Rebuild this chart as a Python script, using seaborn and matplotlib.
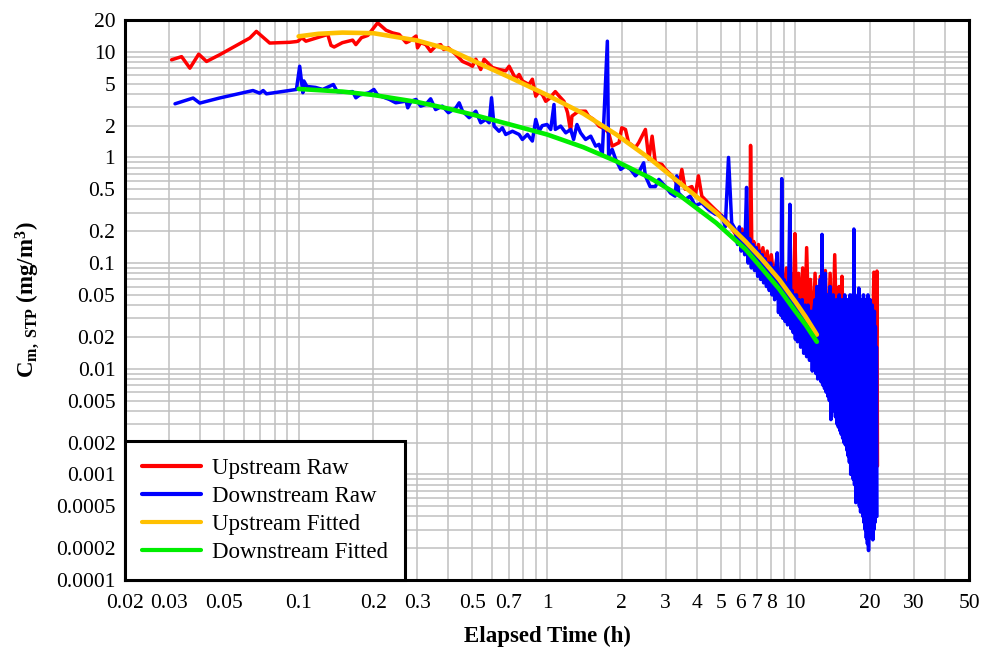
import numpy as np
import pandas as pd
import matplotlib
matplotlib.use('Agg')
import matplotlib.pyplot as plt
import seaborn as sns
from matplotlib.ticker import FixedLocator, FixedFormatter, LogLocator, NullFormatter

# Upstream raw readings (elapsed time h, concentration mg/m3)
up_raw = [
    (0.0308, 8.4), (0.0338, 9.0), (0.0365, 7.0), (0.0396, 9.5), (0.0426, 8.1), (0.0482, 9.4),
    (0.0636, 13.5), (0.0676, 15.6), (0.0765, 12.1), (0.092, 12.3), (0.098, 12.5),
    (0.0995, 12.6), (0.103, 13.6), (0.107, 12.6), (0.125, 14.1), (0.131, 14.6), (0.135, 11.5),
    (0.139, 11.1), (0.150, 12.2), (0.165, 12.9), (0.170, 11.7), (0.179, 13.6), (0.190, 14.3),
    (0.208, 18.8), (0.225, 16.0), (0.239, 15.1), (0.254, 14.6), (0.271, 12.2), (0.279, 12.6),
    (0.297, 14.1), (0.301, 10.9), (0.310, 12.2), (0.325, 11.7), (0.340, 10.1), (0.356, 11.3),
    (0.373, 11.7), (0.384, 10.5), (0.401, 10.9), (0.430, 9.4), (0.457, 8.1), (0.486, 7.6),
    (0.501, 7.3), (0.517, 8.5), (0.541, 6.8), (0.558, 8.5), (0.585, 7.6), (0.603, 7.1),
    (0.641, 6.8), (0.682, 6.6), (0.704, 7.3), (0.749, 5.5), (0.772, 6.1), (0.796, 5.3),
    (0.846, 4.9), (0.873, 5.5), (0.901, 3.8), (0.929, 4.2), (0.960, 3.9), (0.988, 3.4),
    (1.02, 3.6), (1.08, 4.2), (1.12, 3.8), (1.17, 3.4), (1.21, 2.65), (1.245, 1.77),
    (1.26, 2.46), (1.34, 2.74), (1.43, 2.74), (1.47, 2.46), (1.54, 2.29), (1.62, 1.98),
    (1.72, 1.84), (1.77, 1.71), (1.83, 1.28), (1.95, 1.38), (2.00, 1.91), (2.07, 1.84),
    (2.13, 1.38), (2.27, 1.24), (2.34, 1.38), (2.49, 1.84), (2.57, 0.96), (2.65, 1.59),
    (2.73, 0.89), (2.90, 0.86), (3.00, 0.77), (3.19, 0.67), (3.39, 0.53), (3.49, 0.77),
    (3.60, 0.50), (3.83, 0.53), (3.95, 0.43), (4.07, 0.67), (4.20, 0.43), (4.47, 0.37),
    (4.76, 0.32), (5.06, 0.28), (5.38, 0.24), (5.72, 0.19),
    (5.9, 0.16), (6.1, 0.21), (6.3, 0.14), (6.45, 0.17), (6.55, 0.12), (6.6, 1.3),
    (6.68, 0.13), (6.8, 0.16), (6.95, 0.11), (7.1, 0.15), (7.25, 0.10), (7.4, 0.14),
    (7.55, 0.09), (7.7, 0.13), (7.85, 0.08), (8.0, 0.12), (8.2, 0.07), (8.4, 0.11),
    (8.6, 0.06), (8.8, 0.10), (9.0, 0.05), (9.2, 0.09), (9.4, 0.045), (9.6, 0.08),
    (9.8, 0.04), (9.96, 0.19), (10.1, 0.035), (10.3, 0.08), (10.5, 0.03), (10.7, 0.09),
    (10.9, 0.025), (11.1, 0.14), (11.3, 0.03), (11.5, 0.07), (11.8, 0.02), (12.0, 0.08),
    (12.3, 0.018), (12.6, 0.075), (12.9, 0.015), (13.2, 0.085), (13.5, 0.014), (13.8, 0.08),
    (14.1, 0.012), (14.4, 0.12), (14.7, 0.015), (15.0, 0.06), (15.2, 0.012), (15.4, 0.075),
    (15.7, 0.01), (16.0, 0.045), (16.3, 0.008), (16.6, 0.04), (17.0, 0.007), (17.4, 0.035),
    (17.8, 0.005), (18.2, 0.04), (18.6, 0.004), (19.0, 0.035), (19.4, 0.003), (19.8, 0.045),
    (20.2, 0.003), (20.7, 0.082), (21.0, 0.002), (21.3, 0.084), (21.4, 0.0012),
]

# Downstream raw readings
dn_raw = [
    (0.0318, 3.22), (0.0376, 3.65), (0.040, 3.27), (0.048, 3.65), (0.0655, 4.3), (0.0697, 4.06),
    (0.072, 4.3), (0.0742, 4.0), (0.098, 4.4),
    (0.101, 7.3), (0.104, 4.1), (0.105, 5.3), (0.108, 4.7), (0.117, 4.6), (0.125, 4.4),
    (0.133, 4.7), (0.138, 4.9), (0.143, 4.2), (0.150, 4.15), (0.165, 4.2), (0.170, 3.67),
    (0.176, 3.9), (0.192, 4.1), (0.201, 4.4), (0.208, 3.9), (0.232, 3.54), (0.246, 3.29),
    (0.271, 3.41), (0.275, 2.95), (0.284, 3.41), (0.297, 3.54), (0.310, 3.06), (0.325, 3.17),
    (0.340, 3.59), (0.356, 2.84), (0.379, 3.06), (0.401, 2.65), (0.430, 2.95), (0.443, 3.29),
    (0.457, 2.74), (0.486, 2.38), (0.517, 2.74), (0.541, 2.13), (0.567, 2.29), (0.585, 2.13),
    (0.598, 3.67), (0.612, 1.98), (0.641, 1.77), (0.661, 1.91), (0.682, 1.65), (0.726, 1.77),
    (0.772, 1.65), (0.796, 1.48), (0.834, 1.65), (0.873, 1.43), (0.901, 2.29), (0.929, 1.77),
    (0.957, 2.0), (1.0, 2.05), (1.035, 1.84), (1.067, 3.17), (1.08, 1.84), (1.135, 1.98),
    (1.19, 1.71), (1.245, 1.84), (1.28, 1.48), (1.32, 2.05), (1.365, 1.71), (1.43, 1.48),
    (1.50, 1.59), (1.57, 1.28), (1.62, 1.33), (1.67, 1.07), (1.75, 12.6), (1.77, 1.03),
    (1.83, 1.19), (1.89, 0.96), (1.98, 0.77), (2.07, 0.83), (2.17, 0.77), (2.27, 0.67),
    (2.34, 0.72), (2.45, 0.89), (2.49, 0.67), (2.60, 0.53), (2.73, 0.53), (2.82, 0.62),
    (3.00, 0.53), (3.14, 0.46), (3.28, 0.43), (3.33, 0.67), (3.39, 0.46), (3.60, 0.40),
    (3.77, 0.43), (3.95, 0.35), (4.20, 0.37), (4.47, 0.32), (4.76, 0.29), (5.06, 0.28),
    (5.22, 0.22), (5.38, 1.0), (5.54, 0.24), (5.72, 0.21),
    (5.85, 0.15), (5.95, 0.22), (6.05, 0.13), (6.15, 0.19), (6.25, 0.12), (6.36, 0.52),
    (6.45, 0.10), (6.55, 0.17), (6.65, 0.09), (6.75, 0.15), (6.85, 0.085), (6.95, 0.14),
    (7.05, 0.075), (7.15, 0.13), (7.25, 0.07), (7.35, 0.12), (7.45, 0.065), (7.55, 0.11),
    (7.65, 0.06), (7.75, 0.10), (7.85, 0.055), (7.95, 0.10), (8.05, 0.05), (8.15, 0.09),
    (8.25, 0.045), (8.35, 0.085), (8.45, 0.125), (8.55, 0.034), (8.65, 0.08), (8.75, 0.032),
    (8.81, 0.63), (8.9, 0.03), (9.0, 0.07), (9.1, 0.028), (9.2, 0.065), (9.3, 0.026),
    (9.4, 0.06), (9.5, 0.36), (9.6, 0.024), (9.7, 0.055), (9.8, 0.022), (9.9, 0.05),
    (10.0, 0.019), (10.1, 0.05), (10.2, 0.018), (10.35, 0.045), (10.5, 0.016), (10.65, 0.045),
    (10.8, 0.014), (10.95, 0.04), (11.1, 0.013), (11.25, 0.04), (11.4, 0.012), (11.55, 0.035),
    (11.7, 0.0095), (11.85, 0.035),
    (12.0, 0.045), (12.1, 0.009), (12.2, 0.06), (12.3, 0.008), (12.4, 0.04), (12.5, 0.0085),
    (12.6, 0.07), (12.7, 0.0075), (12.8, 0.187), (12.9, 0.007), (13.0, 0.06), (13.1, 0.0065),
    (13.2, 0.08), (13.3, 0.006), (13.4, 0.05), (13.5, 0.0055), (13.6, 0.035), (13.7, 0.005),
    (13.8, 0.06), (13.9, 0.0033), (14.0, 0.03), (14.1, 0.0045), (14.2, 0.05), (14.3, 0.004),
    (14.4, 0.025), (14.5, 0.0035), (14.6, 0.045), (14.7, 0.003), (14.8, 0.03), (14.9, 0.0028),
    (15.0, 0.05), (15.1, 0.0026), (15.2, 0.03), (15.3, 0.0024), (15.4, 0.045), (15.5, 0.0022),
    (15.6, 0.035), (15.7, 0.002), (15.8, 0.05), (15.9, 0.0019), (16.0, 0.04), (16.1, 0.0017),
    (16.2, 0.045), (16.3, 0.0015), (16.4, 0.035), (16.5, 0.0013), (16.6, 0.05), (16.7, 0.001),
    (16.8, 0.04), (16.9, 0.0011), (17.0, 0.05), (17.1, 0.0009), (17.2, 0.21), (17.3, 0.0008),
    (17.4, 0.05), (17.5, 0.00054), (17.6, 0.045), (17.7, 0.0007), (17.8, 0.04), (17.9, 0.0006),
    (18.0, 0.058), (18.1, 0.0005), (18.2, 0.04), (18.3, 0.00044), (18.4, 0.045), (18.5, 0.0005),
    (18.6, 0.035), (18.7, 0.0004), (18.8, 0.05), (18.9, 0.00035), (19.0, 0.04), (19.1, 0.0003),
    (19.2, 0.045), (19.3, 0.00025), (19.4, 0.035), (19.5, 0.00022), (19.6, 0.05), (19.7, 0.00019),
    (19.8, 0.04), (19.9, 0.00025), (20.0, 0.045), (20.1, 0.0003), (20.2, 0.035), (20.3, 0.00028),
    (20.4, 0.04), (20.5, 0.00024), (20.6, 0.03), (20.7, 0.0003), (20.8, 0.035), (20.9, 0.00035),
    (21.0, 0.025), (21.1, 0.0006), (21.2, 0.016), (21.3, 0.0004),
]

# Fitted curves
up_fit = [
    (0.1, 14.0), (0.12, 14.8), (0.15, 15.2), (0.2, 15.0), (0.3, 12.8), (0.4, 10.6),
    (0.5, 8.3), (0.7, 5.8), (1.0, 3.9), (1.4, 2.6), (1.9, 1.65), (2.6, 0.97), (3.5, 0.55),
    (4.8, 0.30), (6.3, 0.16), (7.3, 0.11), (8.6, 0.07), (10.0, 0.043), (11.0, 0.031),
    (12.2, 0.021),
]
dn_fit = [
    (0.1, 4.45), (0.15, 4.2), (0.2, 3.9), (0.3, 3.35), (0.4, 2.9), (0.5, 2.55), (0.7, 2.07),
    (1.0, 1.65), (1.4, 1.25), (1.9, 0.92), (2.6, 0.64), (3.5, 0.42), (4.8, 0.24), (6.3, 0.135),
    (7.3, 0.09), (8.6, 0.057), (10.0, 0.035), (11.0, 0.026), (12.2, 0.018),
]

x_ticks = [0.02, 0.03, 0.05, 0.1, 0.2, 0.3, 0.5, 0.7, 1, 2, 3, 4, 5, 6, 7, 8, 10, 20, 30, 50]
x_labels = ['0.02', '0.03', '0.05', '0.1', '0.2', '0.3', '0.5', '0.7', '1', '2', '3', '4',
            '5', '6', '7', '8', '10', '20', '30', '50']
y_ticks = [20, 10, 5, 2, 1, 0.5, 0.2, 0.1, 0.05, 0.02, 0.01, 0.005, 0.002, 0.001,
           0.0005, 0.0002, 0.0001]
y_labels = ['20', '10', '5', '2', '1', '0.5', '0.2', '0.1', '0.05', '0.02', '0.01', '0.005',
            '0.002', '0.001', '0.0005', '0.0002', '0.0001']

sns.set_theme(style='white')
plt.rcParams['font.family'] = ['Liberation Serif', 'DejaVu Serif']
plt.rcParams['mathtext.fontset'] = 'custom'
plt.rcParams['mathtext.rm'] = 'Liberation Serif'
plt.rcParams['mathtext.bf'] = 'Liberation Serif:bold'
plt.rcParams['mathtext.it'] = 'Liberation Serif:italic'

fig = plt.figure(figsize=(9.82, 6.47), dpi=100)
ax = fig.add_axes([125 / 982, 1 - 580 / 647, 844 / 982, 560 / 647])
ax.set_xscale('log')
ax.set_yscale('log')

series = [
    (up_raw, 'Upstream Raw', '#ff0000', 2.5),
    (dn_raw, 'Downstream Raw', '#0000ff', 2.5),
    (up_fit, 'Upstream Fitted', '#ffc000', 3.3),
    (dn_fit, 'Downstream Fitted', '#00ee00', 3.3),
]
for pts, name, col, lw in series:
    df = pd.DataFrame(pts, columns=['t', 'c'])
    sns.lineplot(data=df, x='t', y='c', estimator=None, sort=False, color=col,
                 linewidth=lw, label=name, ax=ax)

ax.set_xlim(0.02, 50)
ax.set_ylim(1e-4, 20)

ax.xaxis.set_major_locator(FixedLocator(x_ticks))
ax.xaxis.set_major_formatter(FixedFormatter(x_labels))
ax.yaxis.set_major_locator(FixedLocator(y_ticks))
ax.yaxis.set_major_formatter(FixedFormatter(y_labels))
for axis in (ax.xaxis, ax.yaxis):
    axis.set_minor_locator(LogLocator(base=10, subs=np.arange(1, 10), numticks=30))
    axis.set_minor_formatter(NullFormatter())

ax.set_axisbelow(True)
ax.grid(True, which='both', color='#c0c0c0', linewidth=1.1)
ax.tick_params(which='both', length=0, labelsize=15.5, colors='black')
ax.tick_params(axis='x', pad=10)
ax.tick_params(axis='y', pad=7)

for sp in ax.spines.values():
    sp.set_visible(True)
    sp.set_color('black')
    sp.set_linewidth(2.2)

ax.set_xlabel('Elapsed Time (h)', fontsize=16.5, fontweight='bold', color='black')
ax.set_ylabel(r'$\mathbf{C_{m,\ STP}}$ (mg/m$^\mathbf{3}$)', fontsize=16.5,
              fontweight='bold', color='black')
ax.xaxis.set_label_coords(0.5, -0.082)
ax.yaxis.set_label_coords(-0.099, 0.5)

leg = ax.legend(loc='lower left', bbox_to_anchor=(0, 0), borderaxespad=0, fontsize=16.5,
                frameon=True, fancybox=False, edgecolor='black', framealpha=1,
                handlelength=2.55, handletextpad=0.5, labelspacing=0.3, borderpad=0.75)
leg.get_frame().set_linewidth(2.2)
for h in leg.get_lines():
    h.set_linewidth(3.0)
for txt in leg.get_texts():
    txt.set_color('black')

fig.savefig('out.png', dpi=100)
